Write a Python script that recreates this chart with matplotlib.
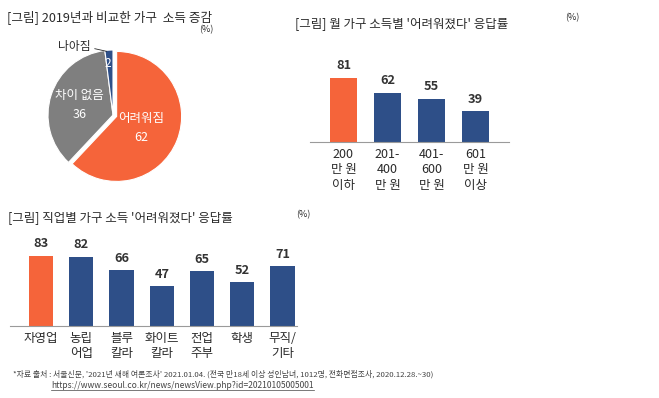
import matplotlib
matplotlib.use('Agg')
import matplotlib.pyplot as plt
from matplotlib.lines import Line2D

plt.rcParams['font.family'] = ['Noto Sans CJK KR', 'DejaVu Sans']

# 데이터
pie_labels = ['어려워짐', '차이 없음', '나아짐']
pie_values = [62, 36, 2]

income_groups = ['200\n만 원\n이하', '201-\n400\n만 원', '401-\n600\n만 원', '601\n만 원\n이상']
income_values = [81, 62, 55, 39]

job_groups = ['자영업', '농립\n어업', '블루\n칼라', '화이트\n칼라', '전업\n주부', '학생', '무직/\n기타']
job_values = [83, 82, 66, 47, 65, 52, 71]

ORANGE = '#F5643A'
BLUE = '#2E4F88'
GRAY = '#7F7F7F'
TXT = '#2a2a2a'

W, H = 659, 398
fig = plt.figure(figsize=(W / 100, H / 100), dpi=100)


def px_axes(left, top, width, height):
    # 픽셀 좌표(왼쪽 위 기준)로 축 만들기
    return fig.add_axes([left / W, 1 - (top + height) / H, width / W, height / H])


# 파이 차트
fig.text(7 / W, 1 - 17 / H, '[그림] 2019년과 비교한 가구  소득 증감', fontsize=9.1,
         color=TXT, va='center')
fig.text(206 / W, 1 - 30 / H, '(%)', fontsize=6.5, color=TXT, va='center', ha='center')

ax_pie = px_axes(35, 37, 156, 156)
ax_pie.pie(pie_values, colors=[ORANGE, GRAY, BLUE], startangle=90, counterclock=False,
           explode=[0.06, 0, 0], wedgeprops=dict(linewidth=0.8, edgecolor='white'))
ax_pie.set_xlim(-1.2, 1.2)
ax_pie.set_ylim(-1.2, 1.2)
ax_pie.set_aspect('equal')
ax_pie.axis('off')
ax_pie.text(0.43, -0.2, f'{pie_labels[0]}\n{pie_values[0]}', color='white', fontsize=9,
            ha='center', va='center', linespacing=1.6)
ax_pie.text(-0.51, 0.15, f'{pie_labels[1]}\n{pie_values[1]}', color='white', fontsize=9,
            ha='center', va='center', linespacing=1.6)
ax_pie.text(-0.08, 0.8, str(pie_values[2]), color='white', fontsize=8.5,
            ha='center', va='center')
ax_pie.text(-0.6, 1.06, pie_labels[2], color=TXT, fontsize=8.5, ha='center', va='center')
ax_pie.plot([-0.28, -0.1], [1.02, 0.98], color=TXT, lw=0.6)


def bar_panel(ax, cats, vals, xlim, ylim, width):
    x = range(len(cats))
    colors = [ORANGE] + [BLUE] * (len(cats) - 1)
    bars = ax.bar(x, vals, width=width, color=colors)
    for b, v in zip(bars, vals):
        ax.annotate(str(v), (b.get_x() + b.get_width() / 2, v), xytext=(0, 4),
                    textcoords='offset points', ha='center', va='bottom',
                    fontsize=9.2, fontweight='bold', color='#333333')
    ax.set_xlim(*xlim)
    ax.set_ylim(*ylim)
    ax.set_xticks(list(x))
    ax.set_xticklabels(cats, fontsize=9, color=TXT, linespacing=1.25)
    ax.tick_params(axis='x', length=0, pad=4)
    ax.set_yticks([])
    for s in ['top', 'right', 'left']:
        ax.spines[s].set_visible(False)
    ax.spines['bottom'].set_color('#9a9a9a')
    ax.spines['bottom'].set_linewidth(0.8)
    ax.patch.set_alpha(0)


# 월 가구 소득별
fig.text(295 / W, 1 - 24 / H, "[그림] 월 가구 소득별 '어려워졌다' 응답률", fontsize=9.0,
         color=TXT, va='center')
fig.text(572 / W, 1 - 18 / H, '(%)', fontsize=6.5, color=TXT, va='center', ha='center')
ax1 = px_axes(310, 50, 199, 92)
bar_panel(ax1, income_groups, income_values, (-0.76, 3.76), (0, 92 / 0.79), 0.61)

# 직업별
fig.text(8 / W, 1 - 218 / H, "[그림] 직업별 가구 소득 '어려워졌다' 응답률", fontsize=9.0,
         color=TXT, va='center')
fig.text(303 / W, 1 - 215 / H, '(%)', fontsize=6.5, color=TXT, va='center', ha='center')
ax2 = px_axes(10, 236, 287, 90)
bar_panel(ax2, job_groups, job_values, (-0.77, 6.36), (0, 90 / 0.843), 0.6)

# 출처
fig.text(13 / W, 1 - 374 / H,
         "*자료 출처 : 서울신문, '2021년 새해 여론조사' 2021.01.04. (전국 만18세 이상 성인남녀, "
         "1012명, 전화면접조사, 2020.12.28.~30)", fontsize=5.65, color='#444444', va='center')
url = fig.text(51 / W, 1 - 386 / H, 'https://www.seoul.co.kr/news/newsView.php?id=20210105005001',
               fontsize=6.1, color='#444444', va='center')

fig.canvas.draw()
bb = url.get_window_extent().transformed(fig.transFigure.inverted())
fig.add_artist(Line2D([bb.x0, bb.x1], [bb.y0 + 0.002, bb.y0 + 0.002],
                      transform=fig.transFigure, color='#444444', lw=0.5))

fig.savefig('out.png', dpi=100)
